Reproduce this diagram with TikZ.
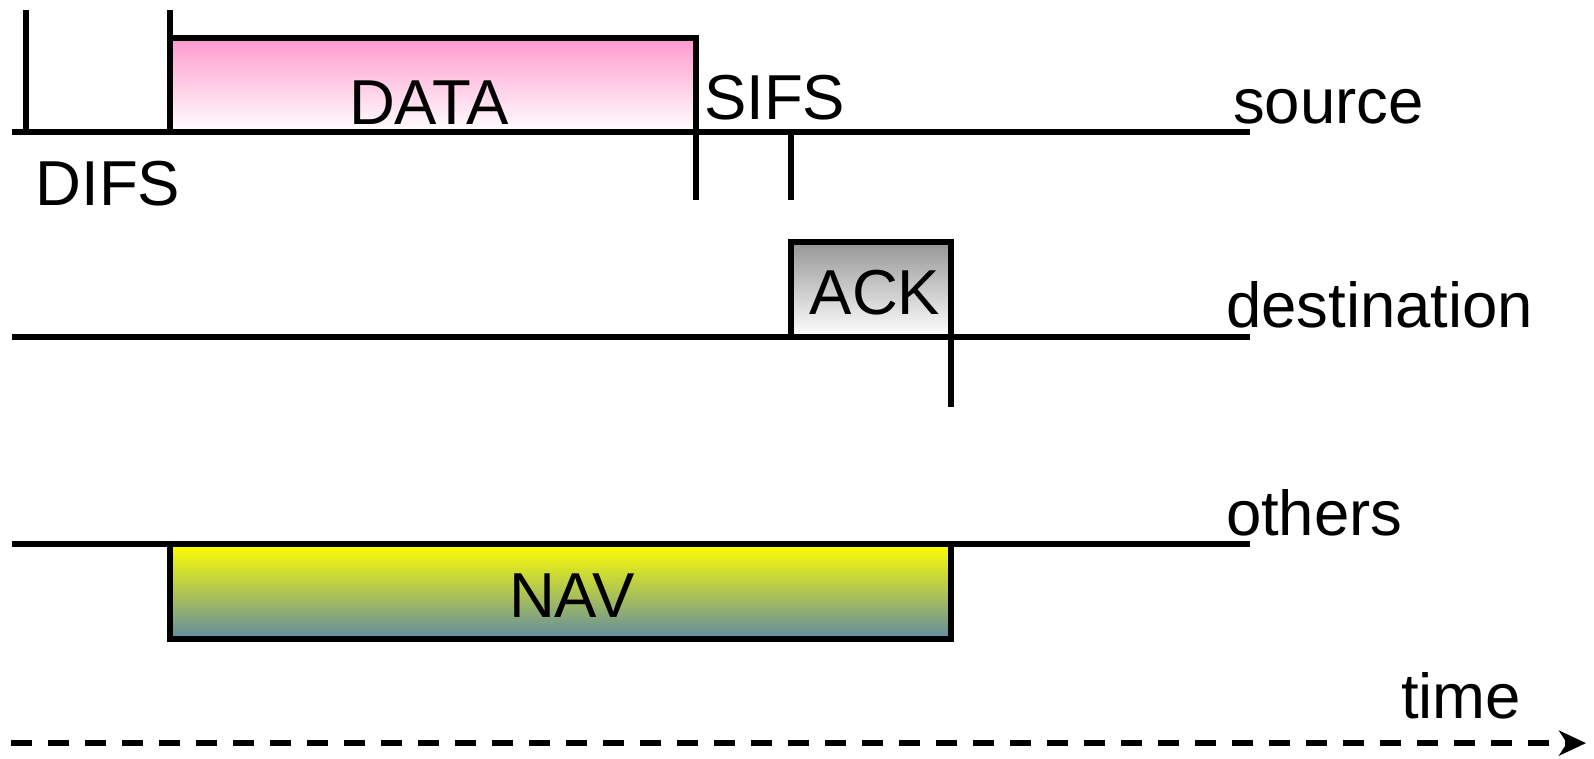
\documentclass[tikz,border=0pt]{standalone}
\usepackage{fontspec}
\setmainfont{Liberation Sans}
\usetikzlibrary{arrows.meta}
\definecolor{datapink}{RGB}{255,153,204}
\definecolor{ackgray}{RGB}{150,150,150}
\definecolor{navyellow}{RGB}{255,255,0}
\definecolor{navblue}{RGB}{96,138,164}
\begin{document}
\begin{tikzpicture}[x=1pt,y=-1pt,line width=6pt,
  lbl/.style={inner sep=0pt,font=\fontsize{63.5}{70}\selectfont},
  framebox/.style={draw=black,line width=6pt,inner sep=0pt,outer sep=0pt,anchor=north west},
  tick/.style={draw=black,line width=6pt},
  axisline/.style={draw=black,line width=6pt},
]
\useasboundingbox (0,0) rectangle (1594,758);
% boxes
\node[framebox,minimum width=526.6pt,minimum height=94.4pt,top color=datapink,bottom color=white] (data) at (169.8,37.6) {};
\node[framebox,minimum width=159.6pt,minimum height=94.5pt,top color=ackgray,bottom color=white] (ack) at (790.9,242) {};
\node[framebox,minimum width=780.7pt,minimum height=95.5pt,top color=navyellow,bottom color=navblue] (nav) at (169.8,543.9) {};
% timelines
\coordinate (s1) at (12.2,132.2); \coordinate (s2) at (1250.4,132.2);
\coordinate (d1) at (12.2,336.5); \coordinate (d2) at (1250.4,336.5);
\coordinate (o1) at (12.2,543.9); \coordinate (o2) at (1250.4,543.9);
\draw[axisline] (s1) -- (s2);
\draw[axisline] (d1) -- (d2);
\draw[axisline] (o1) -- (o2);
% ticks
\coordinate (t1a) at (26.4,10.2); \coordinate (t1b) at (26.4,132.2);
\coordinate (t2a) at (169.8,10.2); \coordinate (t2b) at (169.8,132.2);
\coordinate (t3a) at (696.4,132.2); \coordinate (t3b) at (696.4,200.3);
\coordinate (t4a) at (790.9,132.2); \coordinate (t4b) at (790.9,200.3);
\coordinate (t5a) at (950.5,336.5); \coordinate (t5b) at (950.5,406.6);
\draw[tick] (t1a) -- (t1b);
\draw[tick] (t2a) -- (t2b);
\draw[tick] (t3a) -- (t3b);
\draw[tick] (t4a) -- (t4b);
\draw[tick] (t5a) -- (t5b);
% labels
\node[lbl,anchor=base] (datalbl) at (429,124) {DATA};
\node[lbl,anchor=base west] (sifs) at (701,119) {SIFS};
\node[lbl,anchor=base west] (difs) at (32.5,205) {DIFS};
\node[lbl,anchor=base west] (src) at (1230,123) {source};
\node[lbl,anchor=base] (acklbl) at (875,314) {ACK};
\node[lbl,anchor=base west] (dst) at (1223,327) {destination};
\node[lbl,anchor=base west] (oth) at (1223,535) {others};
\node[lbl,anchor=base] (navlbl) at (572,617) {NAV};
\node[lbl,anchor=base west] (timelbl) at (1398,718) {time};
% time axis
\coordinate (a1) at (11,743.1); \coordinate (a2) at (1586,743.1);
\draw[line width=6pt,dash pattern=on 21pt off 16pt,-{Stealth[length=27pt,width=25pt,inset=8pt]}] (a1) -- (a2);
\end{tikzpicture}
\end{document}
